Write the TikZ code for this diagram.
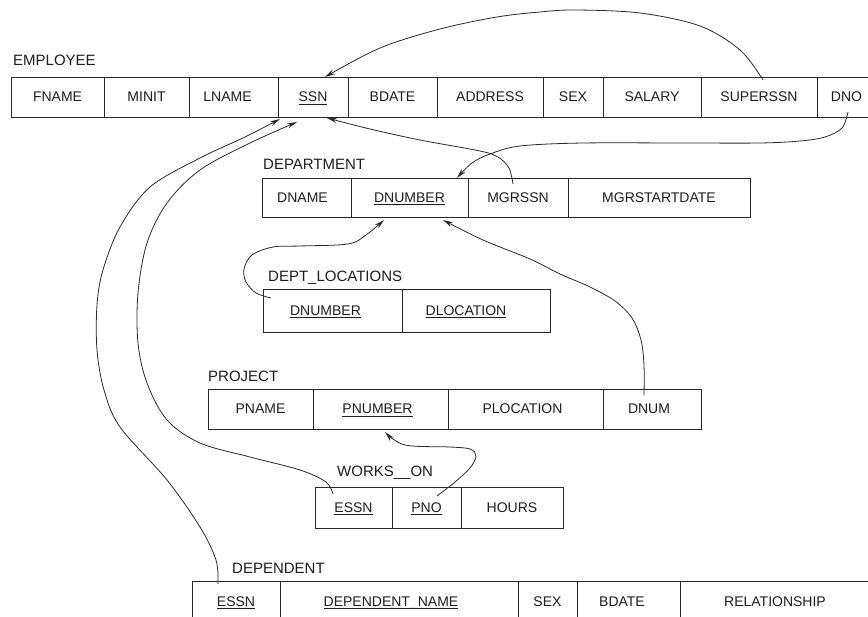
\documentclass[tikz,border=0pt]{standalone}
\usepackage{fontspec}
\setmainfont{Liberation Sans}
\usetikzlibrary{arrows.meta,calc}
\definecolor{linec}{HTML}{2A2A2A}
\definecolor{textc}{HTML}{1E1E1E}
\newcommand\keyu[1]{\setbox0\hbox{#1}\rlap{\rule[-2.6pt]{\wd0}{0.7pt}}\box0}
\newcommand\nudge[2]{\kern-#1\relax#2}
\newcommand\cellfont{\fontsize{14}{17}\selectfont}
\newcommand\titlefont{\fontsize{15}{18}\selectfont}
\tikzset{
  cell/.style={draw=linec, line width=0.9pt, inner sep=0pt, outer sep=0pt,
    font=\cellfont, text=textc, text height=10pt, text depth=0pt},
  reltitle/.style={anchor=base west, inner sep=0pt, font=\titlefont, text=textc},
  fk/.style={draw=linec, line width=0.8pt, -{Stealth[length=10pt,width=5pt]}},
}
\begin{document}
\begin{tikzpicture}[x=1pt,y=-1pt]
\useasboundingbox (0,0) rectangle (868,617);
\clip (0,0) rectangle (868,617);
\fill[white] (0,0) rectangle (868,617);

% EMPLOYEE
\node[reltitle] (t-emp) at (13,66) {EMPLOYEE};
\begin{scope}[every node/.append style={cell, minimum height=40pt}]
\node[minimum width=93pt]  (e-fname)    at (57.5,97)  {FNAME};
\node[minimum width=85pt]  (e-minit)    at (146.5,97) {MINIT};
\node[minimum width=89pt]  (e-lname)    at (233.5,97) {\nudge{12pt}{LNAME}};
\node[minimum width=70pt]  (e-ssn)      at (313,97)   {\keyu{SSN}};
\node[minimum width=89pt]  (e-bdate)    at (392.5,97) {BDATE};
\node[minimum width=106pt] (e-address)  at (490,97)   {ADDRESS};
\node[minimum width=60pt]  (e-sex)      at (573,97)   {SEX};
\node[minimum width=98pt]  (e-salary)   at (652,97)   {SALARY};
\node[minimum width=116pt] (e-superssn) at (759,97)   {SUPERSSN};
\node[minimum width=59pt]  (e-dno)      at (846.5,97) {DNO};
\end{scope}

% DEPARTMENT
\node[reltitle] (t-dept) at (263,170) {DEPARTMENT};
\begin{scope}[every node/.append style={cell, minimum height=39pt}]
\node[minimum width=89pt]  (d-dname)   at (306.5,197.5) {\nudge{8pt}{DNAME}};
\node[minimum width=117pt] (d-dnumber) at (409.5,197.5) {\keyu{DNUMBER}};
\node[minimum width=100pt] (d-mgrssn)  at (518,197.5)   {MGRSSN};
\node[minimum width=182pt] (d-mgrstart) at (659,197.5)  {MGRSTARTDATE};
\end{scope}

% DEPT_LOCATIONS
\node[reltitle] (t-dloc) at (268,282) {DEPT\_LOCATIONS};
\begin{scope}[every node/.append style={cell, minimum height=43pt}]
\node[minimum width=139pt] (l-dnumber)   at (332.5,310.5) {\nudge{14pt}{\keyu{DNUMBER}}};
\node[minimum width=148pt] (l-dlocation) at (476,310.5)   {\nudge{20pt}{\keyu{DLOCATION}}};
\end{scope}

% PROJECT
\node[reltitle] (t-proj) at (208,382) {PROJECT};
\begin{scope}[every node/.append style={cell, minimum height=40pt}]
\node[minimum width=105pt] (p-pname)     at (260.5,409) {PNAME};
\node[minimum width=135pt] (p-pnumber)   at (380.5,409) {\nudge{6pt}{\keyu{PNUMBER}}};
\node[minimum width=155pt] (p-plocation) at (525.5,409) {\nudge{6pt}{PLOCATION}};
\node[minimum width=98pt]  (p-dnum)      at (652,409)   {\nudge{6pt}{DNUM}};
\end{scope}

% WORKS_ON
\node[reltitle] (t-works) at (337,477) {WORKS\_\_ON};
\begin{scope}[every node/.append style={cell, minimum height=41pt}]
\node[minimum width=77pt]  (w-essn)  at (353.5,507.5) {\keyu{ESSN}};
\node[minimum width=69pt]  (w-pno)   at (426.5,507.5) {\keyu{PNO}};
\node[minimum width=102pt] (w-hours) at (512,507.5)   {HOURS};
\end{scope}

% DEPENDENT
\node[reltitle] (t-dep) at (232,573) {DEPENDENT};
\begin{scope}[every node/.append style={cell, minimum height=40pt}]
\node[minimum width=88pt]  (n-essn)  at (236,601)   {\keyu{ESSN}};
\node[minimum width=238pt] (n-name)  at (399,601)   {\nudge{16pt}{\keyu{DEPENDENT\_NAME}}};
\node[minimum width=59pt]  (n-sex)   at (547.5,601) {SEX};
\node[minimum width=103pt] (n-bdate) at (628.5,601) {\nudge{13pt}{BDATE}};
\node[minimum width=190pt] (n-rel)   at (775,601)   {RELATIONSHIP};
\end{scope}

% connector end points
\coordinate (a1s) at ($(e-superssn.north)+(4,3)$);
\coordinate (a1e) at ($(e-ssn.north)+(12,0)$);
\coordinate (a2s) at ($(d-mgrssn.north)+(-5,6)$);
\coordinate (a2e) at ($(e-ssn.south)+(14,1)$);
\coordinate (a3s) at ($(e-dno.south)+(1.5,-5)$);
\coordinate (a3e) at ($(d-dnumber.north)+(47.5,0)$);
\coordinate (a4s) at ($(l-dnumber.north west)+(8,9)$);
\coordinate (a4e) at ($(d-dnumber.south)+(-25.5,3)$);
\coordinate (a5s) at ($(p-dnum.north)+(-8,6)$);
\coordinate (a5e) at ($(d-dnumber.south)+(33.5,3)$);
\coordinate (a6s) at ($(w-pno.north)+(10.5,9)$);
\coordinate (a6e) at ($(p-pnumber.south)+(4.5,3)$);
\coordinate (a7s) at ($(w-essn.north)+(-20.5,7)$);
\coordinate (a7e) at ($(e-ssn.south)+(-16,5)$);
\coordinate (a8s) at ($(n-essn.north)+(-18,3)$);
\coordinate (a8e) at ($(e-ssn.south)+(-33,2)$);

% SUPERSSN -> SSN
\draw[fk] plot[smooth, tension=0.55] coordinates {(a1s) (740,50) (700,26) (640,13) (575,10) (540,12) (497,17) (440,29) (380,48) (a1e)};
% MGRSSN -> SSN
\draw[fk] plot[smooth, tension=0.55] coordinates {(a2s) (509,168) (498,157) (480,151) (420,140) (370,129) (a2e)};
% DNO -> DNUMBER
\draw[fk] plot[smooth, tension=0.55] coordinates {(a3s) (842,128) (825,137) (800,141) (760,143) (680,143) (583,143) (520,146) (490,154) (472,163) (a3e)};
% DEPT_LOCATIONS.DNUMBER -> DNUMBER
\draw[fk] plot[smooth, tension=0.55] coordinates {(a4s) (256,293) (246,282) (244,269) (252,255) (273,247) (300,246) (348,244) (366,235) (a4e)};
% DNUM -> DNUMBER
\draw[fk] plot[smooth, tension=0.55] coordinates {(a5s) (644,365) (641,340) (632,318) (615,301) (590,287) (560,274) (530,259) (483,240) (a5e)};
% PNO -> PNUMBER
\draw[fk] plot[smooth, tension=0.55] coordinates {(a6s) (455,482) (470,468) (476,456) (470,449) (450,447) (405,445) (a6e)};
% WORKS_ON.ESSN -> SSN
\draw[fk] plot[smooth, tension=0.55] coordinates {(a7s) (326,482) (300,470) (250,457) (200,443) (167,420) (147,383) (138,343) (138,293) (147,243) (167,203) (200,170) (250,143) (a7e)};
% DEPENDENT.ESSN -> SSN
\draw[fk] plot[smooth, tension=0.55] coordinates {(a8s) (216,560) (200,527) (167,480) (120,427) (104,390) (97,350) (97,305) (103,270) (120,227) (150,187) (200,158) (245,137) (a8e)};
\end{tikzpicture}
\end{document}
